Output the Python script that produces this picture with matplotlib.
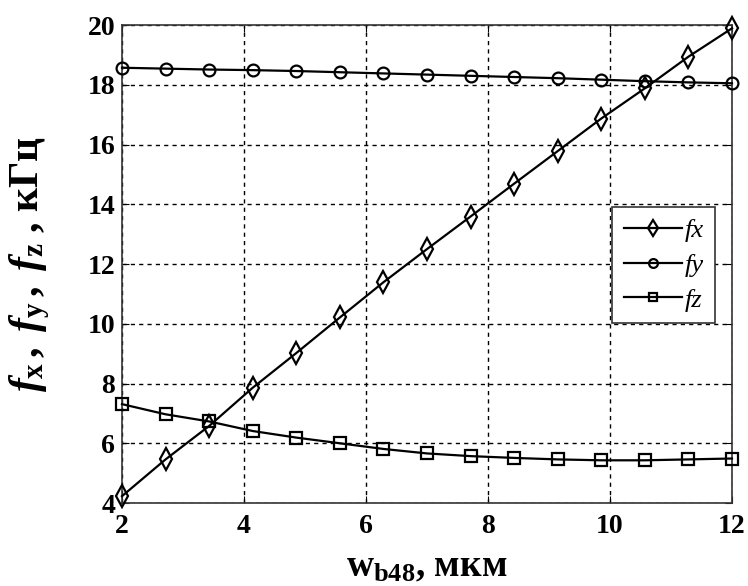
import matplotlib
matplotlib.use('Agg')
import matplotlib.pyplot as plt

plt.rcParams.update({
    'font.family': ['Liberation Serif', 'DejaVu Serif'],
    'font.weight': 'bold',
    'mathtext.fontset': 'custom',
    'mathtext.rm': 'Liberation Serif',
    'mathtext.it': 'Liberation Serif:italic',
    'mathtext.bf': 'Liberation Serif:bold',
})

# data
w_b48 = [2.0, 2.714, 3.429, 4.143, 4.857, 5.571, 6.286, 7.0,
         7.714, 8.429, 9.143, 9.857, 10.571, 11.286, 12.0]
fx = [4.23, 5.46, 6.58, 7.86, 9.02, 10.21, 11.39, 12.50,
      13.59, 14.69, 15.78, 16.87, 17.88, 18.94, 19.89]
fy = [18.57, 18.54, 18.51, 18.49, 18.46, 18.42, 18.38, 18.34,
      18.30, 18.26, 18.22, 18.17, 18.12, 18.08, 18.05]
fz = [7.31, 6.97, 6.73, 6.41, 6.19, 6.00, 5.81, 5.66,
      5.57, 5.51, 5.46, 5.43, 5.43, 5.46, 5.49]
xticks = [2, 4, 6, 8, 10, 12]
yticks = [4, 6, 8, 10, 12, 14, 16, 18, 20]

fig = plt.figure(figsize=(7.48, 5.86), dpi=100)
ax = fig.add_axes([0.1631, 0.1416, 0.8155, 0.8157])

kw = dict(color='black', lw=1.6, mfc='none', mec='black', mew=1.6, clip_on=False, zorder=3)
ax.plot(w_b48, fx, marker='d', ms=11, label='fx', **kw)
ax.plot(w_b48, fy, marker='o', ms=8.5, label='fy', **kw)
ax.plot(w_b48, fz, marker='s', ms=8.5, label='fz', **kw)

ax.set_xlim(2, 12)
ax.set_ylim(4, 20)
ax.set_xticks(xticks)
ax.set_yticks(yticks)
ax.grid(True, color='black', ls=(0, (3, 3)), lw=1.0)
ax.tick_params(direction='in', top=True, right=True, length=5, labelsize=20, pad=5)
ax.tick_params(axis='x', pad=8)
for lab in ax.get_xticklabels() + ax.get_yticklabels():
    lab.set_fontweight('bold')
for s in ax.spines.values():
    s.set_color('#333333')
    s.set_linewidth(1.2)

ax.set_ylabel(r'$f_{\mathbf{x}}\,,\;f_{\mathbf{y}}\,,\;f_{\mathbf{z}}$ , кГц', fontsize=30, fontweight='bold')
ax.yaxis.set_label_coords(-0.115, 0.50)
ax.set_xlabel(r'$\mathbf{w}_{\mathbf{b48}}$, мкм', fontsize=27, fontweight='bold')
ax.xaxis.set_label_coords(0.5, -0.098)

leg = ax.legend(loc='upper left', bbox_to_anchor=(0.803, 0.619), borderaxespad=0,
                frameon=True, fancybox=False,
                prop={'family': 'Liberation Serif', 'style': 'italic', 'weight': 'normal', 'size': 19},
                handlelength=2.2, handletextpad=0.1, labelspacing=0.42, borderpad=0.45,
                markerscale=0.75)
leg.get_frame().set_edgecolor('#333333')
leg.get_frame().set_linewidth(1.2)
leg.get_frame().set_alpha(1)

fig.savefig('out.png', dpi=100, facecolor='white')
